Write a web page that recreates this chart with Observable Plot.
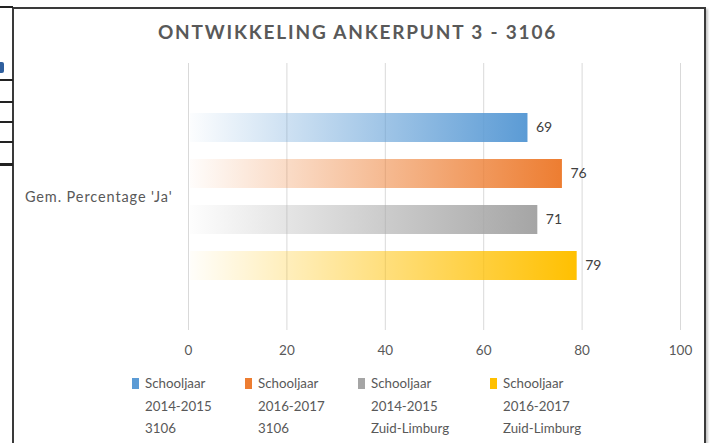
<!DOCTYPE html>
<html>
<head>
<meta charset="utf-8">
<script src="https://cdn.jsdelivr.net/npm/d3@7"></script>
<script src="https://cdn.jsdelivr.net/npm/@observablehq/plot@0.6"></script>
<style>
  html, body { margin: 0; padding: 0; background: #fff; }
  #wrap { position: relative; width: 715px; height: 443px; overflow: hidden; font-family: Lato, "Open Sans", sans-serif; color: #595959; }
  #frame { position: absolute; left: 12px; top: 7px; width: 694px; height: 460px; border: 2px solid #3a3a3a; box-shadow: 2px 2px 2px #c8c8c8; box-sizing: border-box; }
  .tline { position: absolute; left: 0; width: 13px; height: 2px; background: #222; }
  #frag { position: absolute; left: 0; top: 62px; width: 4px; height: 11px; background: #2f5f9e; border-radius: 0 2px 2px 0; }
  #title { position: absolute; left: 0; width: 715px; top: 20px; text-align: center; font-weight: bold; font-size: 19px; color: #595959; letter-spacing: 1.8px; }
  #chart { position: absolute; left: 0; top: 0; }
  #legend { position: absolute; top: 372px; left: 0; width: 715px; height: 70px; }
  .item { position: absolute; top: 0; font-size: 13.3px; line-height: 22.5px; color: #595959; }
  .sw { position: absolute; left: -13px; top: 6px; width: 7px; height: 11px; }
</style>
</head>
<body>
<div id="wrap">
  <div id="frame"></div>
  <div class="tline" style="top:6px;height:2px"></div>
  <div class="tline" style="top:79px"></div>
  <div class="tline" style="top:101px"></div>
  <div class="tline" style="top:121px"></div>
  <div class="tline" style="top:141px"></div>
  <div class="tline" style="top:163px;height:3px"></div>
  <div id="frag"></div>
  <div id="chart"></div>
  <div id="title"></div>
  <div id="legend"></div>
</div>
<script>
const title = "ONTWIKKELING ANKERPUNT 3 - 3106";
const categories = ["Gem. Percentage 'Ja'"];
const series = [
  "Schooljaar 2014-2015 3106",
  "Schooljaar 2016-2017 3106",
  "Schooljaar 2014-2015 Zuid-Limburg",
  "Schooljaar 2016-2017 Zuid-Limburg"
];
const legendLines = [
  ["Schooljaar", "2014-2015", "3106"],
  ["Schooljaar", "2016-2017", "3106"],
  ["Schooljaar", "2014-2015", "Zuid-Limburg"],
  ["Schooljaar", "2016-2017", "Zuid-Limburg"]
];
const values = [69, 76, 71, 79];
const colors = ["#5B9BD5", "#ED7D31", "#A5A5A5", "#FFC000"];
const xTicks = [0, 20, 40, 60, 80, 100];

const data = series.map((s, i) => ({category: categories[0], series: s, value: values[i], idx: i}));

document.getElementById("title").textContent = title;

const plot = Plot.plot({
  width: 715,
  height: 443,
  marginLeft: 188,
  marginRight: 35,
  marginTop: 63,
  marginBottom: 113,
  style: {fontFamily: "Lato, 'Open Sans', sans-serif", fontSize: "13px", color: "#595959", background: "transparent"},
  x: {domain: [0, 100], ticks: xTicks},
  y: {domain: series, paddingInner: 0.36, paddingOuter: 1.08, axis: null},
  fy: {domain: categories, padding: 0},
  marks: [
    Plot.gridX(xTicks, {stroke: "#d9d9d9", strokeOpacity: 1, strokeWidth: 1}),
    Plot.barX(data, {x: "value", y: "series", fy: "category", fill: d => colors[d.idx], insetLeft: 2}),
    Plot.text(data, {x: "value", y: "series", fy: "category", text: d => String(d.value), textAnchor: "start", dx: 8, fill: "#404040", fontSize: 14}),
    Plot.axisX({ticks: xTicks, tickSize: 0, tickPadding: 15, label: null, fontSize: 13.5}),
    Plot.axisFy({anchor: "left", tickSize: 0, tickPadding: 16, label: null, fontSize: 14.5})
  ]
});

// gradient fills, as in the original (white on the left to full colour on the right)
const svg = d3.select(plot);
const defs = svg.insert("defs", ":first-child");
colors.forEach((c, i) => {
  const g = defs.append("linearGradient").attr("id", "grad" + i).attr("x1", "0").attr("x2", "1").attr("y1", "0").attr("y2", "0");
  g.append("stop").attr("offset", "0").attr("stop-color", c).attr("stop-opacity", 0.02);
  g.append("stop").attr("offset", "1").attr("stop-color", c).attr("stop-opacity", 1);
});
svg.selectAll("g[aria-label='bar'] rect").each(function(d, i) {
  d3.select(this).attr("fill", "url(#grad" + i + ")");
});
svg.selectAll("g[aria-label='fy-axis tick label'] text").style("letter-spacing", "0.9px");

document.getElementById("chart").appendChild(plot);

// legend
const legendX = [145, 258, 371, 503];
const legend = document.getElementById("legend");
legendLines.forEach((lines, i) => {
  const item = document.createElement("div");
  item.className = "item";
  item.style.left = legendX[i] + "px";
  const sw = document.createElement("div");
  sw.className = "sw";
  sw.style.background = colors[i];
  item.appendChild(sw);
  lines.forEach(t => {
    const l = document.createElement("div");
    l.textContent = t;
    item.appendChild(l);
  });
  legend.appendChild(item);
});
</script>
</body>
</html>
